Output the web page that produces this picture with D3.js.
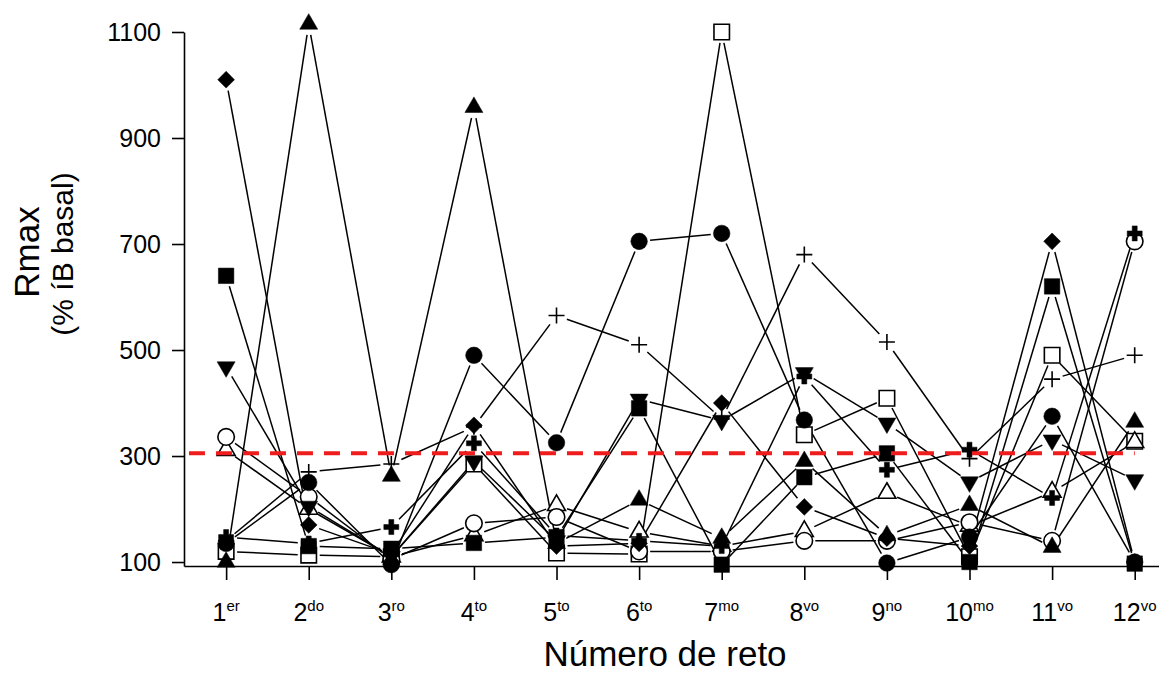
<!DOCTYPE html>
<html>
<head>
<meta charset="utf-8">
<script src="https://cdn.jsdelivr.net/npm/d3@7"></script>
<style>
  body { margin: 0; background: #fff; }
  text { font-family: "Liberation Sans", Arial, sans-serif; fill: #000; }
</style>
</head>
<body>
<div id="chart"></div>
<script>
var svgWidth = 1159;
var svgHeight = 676;

// categories (reto number + ordinal suffix)
var retos = [1, 2, 3, 4, 5, 6, 7, 8, 9, 10, 11, 12];
var sufijos = ["er", "do", "ro", "to", "to", "to", "mo", "vo", "no", "mo", "vo", "vo"];
var yTicks = [100, 300, 500, 700, 900, 1100];
var umbral = 305;

// one array per animal (symbol)
var romboLleno     = [1010, 170, 115, 358, 130, 135, 400, 204, 145, 130, 705, 100];
var trianguloLleno = [100, 1115, 262, 958, 135, 217, 145, 290, 150, 207, 128, 364];
var cuadradoLleno  = [640, 130, 125, 136, 147, 390, 95, 260, 305, 100, 620, 97];
var trianguloInv   = [468, 205, 110, 290, 140, 407, 367, 457, 362, 251, 330, 255];
var circuloVacio   = [336, 223, 105, 173, 185, 120, 120, 140, 140, 175, 140, 705];
var trianguloVacio = [311, 200, 110, 150, 207, 157, 130, 158, 230, 168, 232, 326];
var circuloLleno   = [135, 250, 95, 490, 325, 705, 720, 368, 98, 147, 375, 100];
var cruzFina       = [140, 270, 285, 355, 565, 510, 370, 680, 515, 295, 445, 490];
var cruzGruesa     = [147, 135, 166, 324, 150, 140, 130, 450, 274, 312, 221, 720];
var cuadradoVacio  = [120, 113, 110, 285, 117, 115, 1100, 340, 409, 110, 490, 328];

var series = [
  {values: cuadradoVacio, shape: "square", open: true},
  {values: trianguloVacio, shape: "triangle", open: true},
  {values: circuloVacio, shape: "circle", open: true},
  {values: cruzFina, shape: "plus", open: true},
  {values: cruzGruesa, shape: "cross", open: false},
  {values: trianguloInv, shape: "triangleDown", open: false},
  {values: cuadradoLleno, shape: "square", open: false},
  {values: circuloLleno, shape: "circle", open: false},
  {values: trianguloLleno, shape: "triangle", open: false},
  {values: romboLleno, shape: "diamond", open: false}
];

var svg = d3.select("#chart")
  .append("svg")
  .attr("width", svgWidth)
  .attr("height", svgHeight);

svg.append("rect")
  .attr("width", svgWidth)
  .attr("height", svgHeight)
  .attr("fill", "#fff");

var x = d3.scaleLinear().domain([0.49, 12.5]).range([184, 1176]);
var y = d3.scaleLinear().domain([92.5, 1100]).range([566, 32]);

// y axis
var yAxis = svg.append("g")
  .attr("transform", `translate(${x(0.49)},0)`)
  .call(d3.axisLeft(y).tickValues(yTicks).tickFormat(d3.format("d"))
    .tickSize(12).tickSizeOuter(0).tickPadding(11));
yAxis.selectAll("text").style("font-size", "25px").attr("font-family", null);

// x axis
var xAxis = svg.append("g")
  .attr("transform", `translate(0,${y(92.5)})`)
  .call(d3.axisBottom(x).tickValues(retos).tickSize(14).tickSizeOuter(0).tickFormat(""));

svg.selectAll(".domain, .tick line")
  .attr("stroke", "#000")
  .attr("stroke-width", 1.6);

// x tick labels with superscripts
var xLabels = svg.append("g").selectAll("text")
  .data(retos)
  .enter()
  .append("text")
  .attr("x", d => x(d))
  .attr("y", 621)
  .attr("text-anchor", "middle");
xLabels.append("tspan").style("font-size", "25px").text(d => d);
xLabels.append("tspan").style("font-size", "15px").attr("dy", -10).text((d, i) => sufijos[i]);

// axis titles
svg.append("text")
  .attr("x", 665)
  .attr("y", 666)
  .attr("text-anchor", "middle")
  .style("font-size", "35px")
  .text("Número de reto");

svg.append("text")
  .attr("transform", "translate(39,252) rotate(-90)")
  .attr("text-anchor", "middle")
  .style("font-size", "35px")
  .text("Rmax");

svg.append("text")
  .attr("transform", "translate(73,254) rotate(-90)")
  .attr("text-anchor", "middle")
  .style("font-size", "30px")
  .text("(% íB basal)");

// lines, cut short near each symbol
var gap = 11;
var lineGroup = svg.append("g");
series.forEach(function(s) {
  for (var i = 0; i < s.values.length - 1; i++) {
    var x1 = x(retos[i]), y1 = y(s.values[i]);
    var x2 = x(retos[i + 1]), y2 = y(s.values[i + 1]);
    var len = Math.hypot(x2 - x1, y2 - y1);
    if (len <= gap * 2) continue;
    var ux = (x2 - x1) / len, uy = (y2 - y1) / len;
    lineGroup.append("line")
      .attr("x1", x1 + ux * gap)
      .attr("y1", y1 + uy * gap)
      .attr("x2", x2 - ux * gap)
      .attr("y2", y2 - uy * gap)
      .attr("stroke", "#000")
      .attr("stroke-width", 1.5);
  }
});

// symbols
function symbolPath(shape) {
  if (shape === "square") return d3.symbol(d3.symbolSquare, 240)();
  if (shape === "circle") return d3.symbol(d3.symbolCircle, 215)();
  if (shape === "triangle" || shape === "triangleDown") return d3.symbol(d3.symbolTriangle, 140)();
  if (shape === "diamond") return d3.symbol(d3.symbolSquare, 140)();
  if (shape === "cross") return d3.symbol(d3.symbolCross, 125)();
  return "M-8,0H8M0,-8V8";
}

function symbolRotate(shape) {
  if (shape === "triangleDown") return " rotate(180)";
  if (shape === "diamond") return " rotate(45)";
  return "";
}

series.forEach(function(s) {
  svg.append("g").selectAll("path")
    .data(s.values)
    .enter()
    .append("path")
    .attr("d", symbolPath(s.shape))
    .attr("transform", (d, i) => `translate(${x(retos[i])},${y(d)})` + symbolRotate(s.shape))
    .attr("fill", s.shape === "plus" ? "none" : (s.open ? "#fff" : "#000"))
    .attr("stroke", "#000")
    .attr("stroke-width", s.open ? 1.6 : 0.5);
});

// red dashed reference line
svg.append("line")
  .attr("x1", x(0.55))
  .attr("x2", x(12))
  .attr("y1", y(umbral))
  .attr("y2", y(umbral))
  .attr("stroke", "#ee1c1c")
  .attr("stroke-width", 4)
  .attr("stroke-dasharray", "16,11");
</script>
</body>
</html>
